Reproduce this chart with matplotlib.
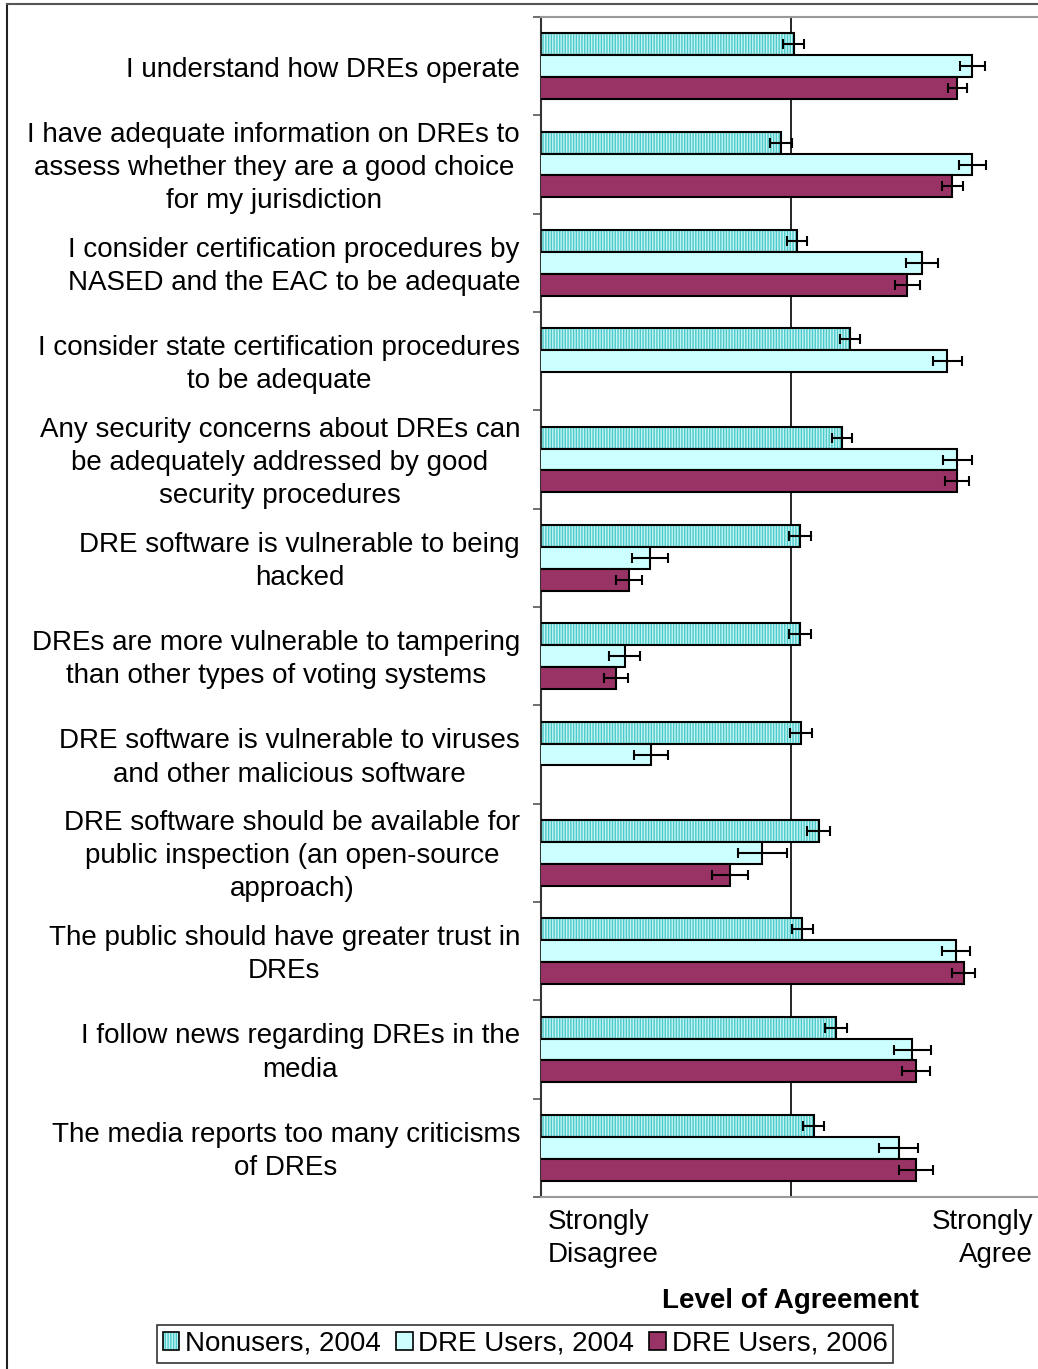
import numpy as np
import matplotlib
matplotlib.use("Agg")
import matplotlib.pyplot as plt
from matplotlib.lines import Line2D
from matplotlib.patches import Patch
from matplotlib.legend_handler import HandlerTuple

plt.rcParams['font.family'] = ['Liberation Sans', 'DejaVu Sans']

categories = [
    "I understand how DREs operate",
    "I have adequate information on DREs to\nassess whether they are a good choice\nfor my jurisdiction",
    "I consider certification procedures by\nNASED and the EAC to be adequate",
    "I consider state certification procedures\nto be adequate",
    "Any security concerns about DREs can\nbe adequately addressed by good\nsecurity procedures",
    "DRE software is vulnerable to being\nhacked",
    "DREs are more vulnerable to tampering\nthan other types of voting systems",
    "DRE software is vulnerable to viruses\nand other malicious software",
    "DRE software should be available for\npublic inspection (an open-source\napproach)",
    "The public should have greater trust in\nDREs",
    "I follow news regarding DREs in the\nmedia",
    "The media reports too many criticisms\nof DREs",
]

series_names = ["Nonusers, 2004", "DRE Users, 2004", "DRE Users, 2006"]

nonusers_2004 = [3.02, 2.92, 3.05, 3.47, 3.41, 3.07, 3.07, 3.08, 3.22, 3.09, 3.36, 3.18]
nonusers_2004_err = [0.087, 0.087, 0.079, 0.079, 0.080, 0.087, 0.088, 0.088, 0.090, 0.083, 0.087, 0.083]

users_2004 = [4.45, 4.45, 4.05, 4.25, 4.33, 1.87, 1.67, 1.88, 2.77, 4.32, 3.97, 3.86]
users_2004_err = [0.100, 0.108, 0.127, 0.115, 0.115, 0.144, 0.123, 0.133, 0.195, 0.110, 0.150, 0.156]

users_2006 = [4.33, 4.29, 3.93, np.nan, 4.33, 1.70, 1.60, np.nan, 2.51, 4.38, 4.00, 4.00]
users_2006_err = [0.078, 0.083, 0.100, np.nan, 0.097, 0.104, 0.096, np.nan, 0.145, 0.090, 0.115, 0.135]

x_min, x_mid, x_max = 1, 3, 5
scale_labels = ["Strongly\nDisagree", "Strongly\nAgree"]
axis_title = "Level of Agreement"

W, H = 1038, 1369
fig = plt.figure(figsize=(W / 100, H / 100), dpi=100)
ax = fig.add_axes([541 / W, 1 - 1197 / H, 500 / W, (1197 - 17) / H])

n = len(categories)
y = np.arange(n)
bh = 0.223
FS = 20
LS = 1.36

teal_face = '#C4F4F4'
teal_hatch = '#4CCACA'
light = '#CCFFFF'
maroon = '#993366'
HATCH = '||||||'

# Nonusers 2004 (hatched)
ax.barh(y - bh, nonusers_2004, height=bh, left=0, color=teal_face, hatch=HATCH,
        edgecolor=teal_hatch, linewidth=0, zorder=2)
ax.barh(y - bh, nonusers_2004, height=bh, left=0, fill=False, edgecolor='black',
        linewidth=1.5, zorder=3)
ax.barh(y, users_2004, height=bh, left=0, color=light, edgecolor='black', linewidth=1.5, zorder=3)
ax.barh(y + bh, users_2006, height=bh, left=0, color=maroon, edgecolor='black', linewidth=1.5, zorder=3)

ekw = dict(fmt='none', ecolor='black', elinewidth=1.5, capsize=3.3, capthick=1.5, zorder=4)
ax.errorbar(nonusers_2004, y - bh, xerr=nonusers_2004_err, **ekw)
ax.errorbar(users_2004, y, xerr=users_2004_err, **ekw)
ax.errorbar(users_2006, y + bh, xerr=users_2006_err, **ekw)

ax.axvline(x_mid, color='black', linewidth=1.2, zorder=1)

ax.set_xlim(x_min, x_max)
ax.set_ylim(n - 0.5, -0.5)
ax.set_xticks([])
ax.set_yticks(np.arange(-0.5, n, 1.0), minor=False)
ax.set_yticklabels([])
ax.tick_params(axis='y', length=6, width=1.2, color='#555555', direction='out')

ax.spines['right'].set_visible(False)
ax.spines['top'].set_color('#999999')
ax.spines['bottom'].set_color('#999999')
ax.spines['top'].set_linewidth(1.5)
ax.spines['bottom'].set_linewidth(1.5)
ax.spines['left'].set_color('#333333')
ax.spines['left'].set_linewidth(1.5)

for i, lab in enumerate(categories):
    ax.text(-0.042, i + 0.035, lab, transform=ax.get_yaxis_transform(), ha='right', va='center',
            multialignment='center', fontsize=FS, linespacing=LS)

fig.text(548 / W, 1 - 1209 / H, scale_labels[0], ha='left', va='top', fontsize=FS,
         linespacing=LS)
fig.text(1033 / W, 1 - 1209 / H, scale_labels[1], ha='right', va='top', fontsize=FS,
         multialignment='right', linespacing=LS)
fig.text(790 / W, 1 - 1301 / H, axis_title, ha='center', va='center', fontsize=FS,
         fontweight='bold')

# legend
h1 = (Patch(facecolor=teal_face, hatch=HATCH, edgecolor=teal_hatch, linewidth=0),
      Patch(fill=False, edgecolor='black', linewidth=1.2))
h2 = Patch(facecolor=light, edgecolor='black', linewidth=1.2)
h3 = Patch(facecolor=maroon, edgecolor='black', linewidth=1.2)
leg = fig.legend([h1, h2, h3], series_names, loc='center', bbox_to_anchor=(525 / W, 1 - 1344 / H),
                 ncol=3, fontsize=FS, frameon=True, fancybox=False, edgecolor='black',
                 handlelength=0.6, handleheight=0.6, handletextpad=0.2, columnspacing=0.55,
                 borderpad=0.2, borderaxespad=0,
                 handler_map={tuple: HandlerTuple(ndivide=1, pad=0)})
leg.get_frame().set_linewidth(1.2)

# outer frame
fig.add_artist(Line2D([7 / W, 7 / W], [0, 1 - 4 / H], color='#222222', linewidth=1.5,
                      transform=fig.transFigure))
fig.add_artist(Line2D([7 / W, 1], [1 - 4 / H, 1 - 4 / H], color='#555555', linewidth=1.5,
                      transform=fig.transFigure))

fig.savefig('out.png', dpi=100)
